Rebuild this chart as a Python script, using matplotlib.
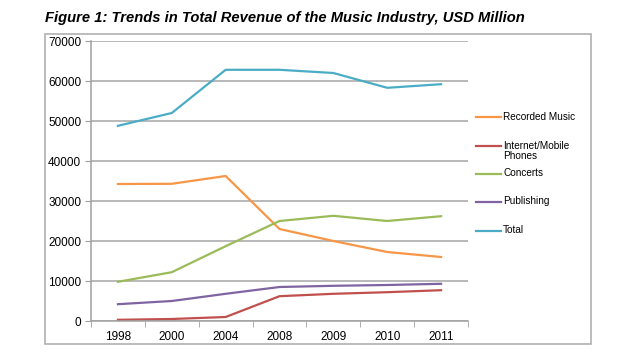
import matplotlib.pyplot as plt
from matplotlib.patches import Rectangle
from matplotlib.lines import Line2D

plt.rcParams['font.family'] = ['Liberation Sans', 'DejaVu Sans']

years = ['1998', '2000', '2004', '2008', '2009', '2010', '2011']
recorded = [34250, 34300, 36250, 23000, 20000, 17250, 16000]
internet = [300, 500, 1000, 6200, 6800, 7200, 7700]
concerts = [9800, 12200, 18700, 25000, 26300, 25000, 26200]
publishing = [4200, 5000, 6800, 8500, 8800, 9000, 9300]
total = [48800, 52000, 62800, 62800, 62000, 58300, 59200]

series = [
    ('Recorded Music', recorded, '#f79646'),
    ('Internet/Mobile\nPhones', internet, '#c0504d'),
    ('Concerts', concerts, '#9bbb59'),
    ('Publishing', publishing, '#8064a2'),
    ('Total', total, '#4bacc6'),
]

fig = plt.figure(figsize=(6.36, 3.58), dpi=100)
W, H = 636, 358

# outer chart frame
fig.patches.append(Rectangle((45 / W, 1 - 344 / H), 546 / W, 310 / H,
                             transform=fig.transFigure, fill=False,
                             edgecolor='#b0b0b0', linewidth=1.2))

fig.text(45 / W, 1 - 18 / H,
         'Figure 1: Trends in Total Revenue of the Music Industry, USD Million',
         fontsize=10.6, fontweight='bold', fontstyle='italic', va='center', ha='left')

ax = fig.add_axes([91 / W, 1 - 321 / H, 377 / W, 280 / H])
x = list(range(len(years)))
for name, vals, col in series:
    ax.plot(x, vals, color=col, linewidth=1.6)

ax.set_xlim(-0.5, len(years) - 0.5)
ax.set_ylim(0, 70000)
ax.set_yticks(range(0, 70001, 10000))
ax.set_xticks(x)
ax.set_xticklabels(years)
ax.set_xticks([i - 0.5 for i in range(len(years) + 1)], minor=True)
ax.tick_params(axis='x', which='major', length=0, pad=7, labelsize=8.5)
ax.tick_params(axis='x', which='minor', length=4, color='#a0a0a0', direction='out')
ax.tick_params(axis='y', length=4, color='#a0a0a0', labelsize=8.5, pad=3)
ax.grid(axis='y', color='#a6a6a6', linewidth=1.1)
ax.set_axisbelow(True)
for s in ['top', 'right']:
    ax.spines[s].set_visible(False)
for s in ['left', 'bottom']:
    ax.spines[s].set_color('#a0a0a0')
    ax.spines[s].set_linewidth(1.1)

# legend drawn at the right
leg_y = [117, 146, 174, 202, 231]
for (name, vals, col), yy in zip(series, leg_y):
    fy = 1 - yy / H
    fig.add_artist(Line2D([476 / W, 501 / W], [fy, fy], transform=fig.transFigure,
                          color=col, linewidth=1.6))
    fig.text(503 / W, fy + 5.5 / H, name, fontsize=7.2, va='top', ha='left',
             linespacing=1.05)

fig.savefig('out.png', dpi=100)
